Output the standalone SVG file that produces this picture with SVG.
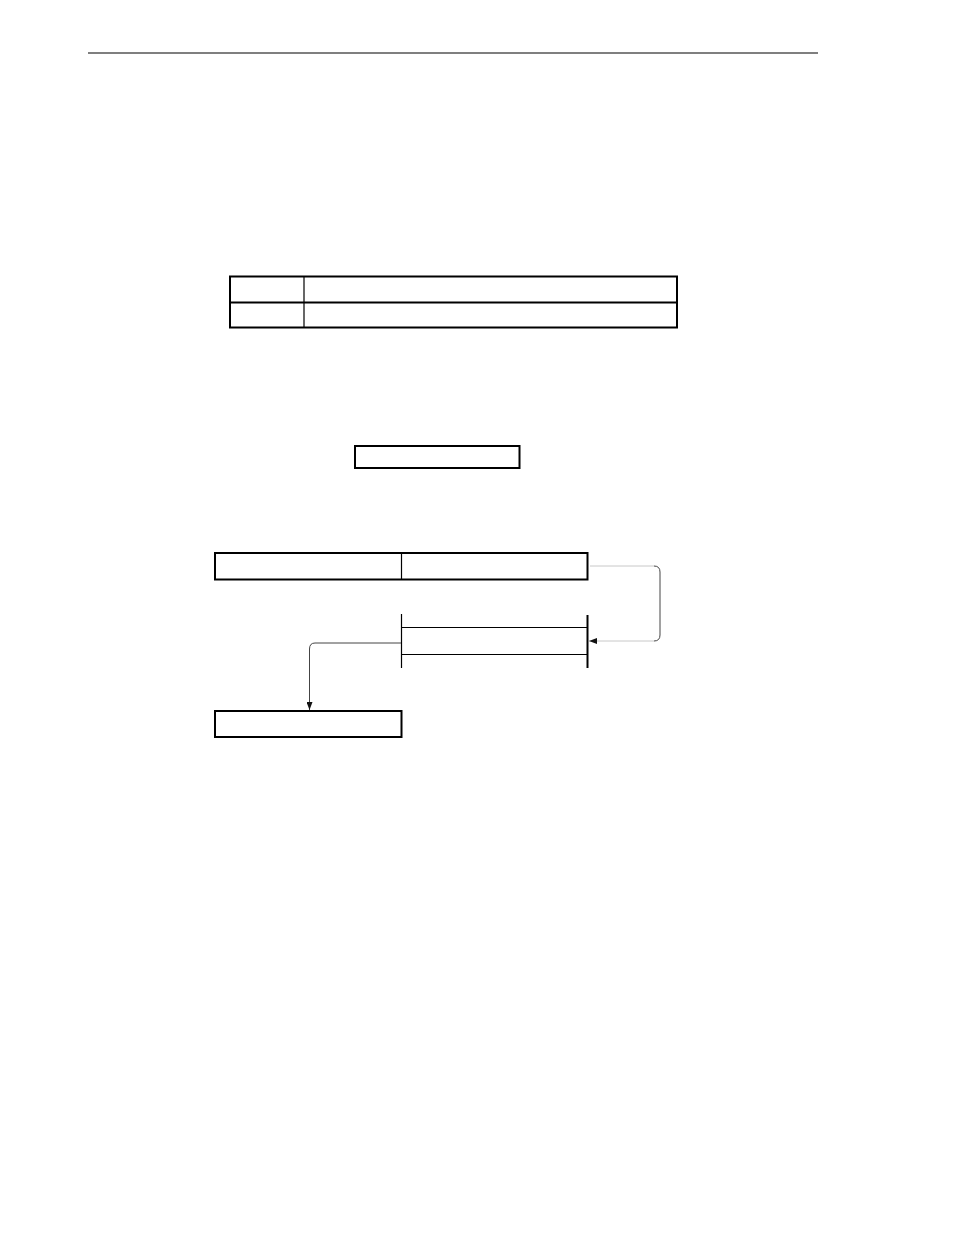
<svg xmlns="http://www.w3.org/2000/svg" width="954" height="1235" viewBox="0 0 954 1235">
<style>
.box{fill:#fff;stroke:#000;stroke-width:2}
.thin{stroke:#000;stroke-width:1.2;fill:none}
.conn{fill:none;stroke:#444;stroke-width:1}
</style>
<defs>
<marker id="ah" viewBox="0 0 8 6" refX="8" refY="3" markerWidth="8" markerHeight="6" markerUnits="userSpaceOnUse" orient="auto">
<path d="M0,0 L8,3 L0,6 z" fill="#111"/>
</marker>
</defs>
<rect width="954" height="1235" fill="#fff"/>
<line x1="88" y1="53" x2="818" y2="53" stroke="#000" stroke-width="1.2"/>
<g id="table">
<rect class="box" x="230" y="276.5" width="447" height="51"/>
<line class="thin" x1="304" y1="276.5" x2="304" y2="327.5"/>
<line x1="230" y1="302.5" x2="677" y2="302.5" stroke="#000" stroke-width="2"/>
</g>
<g id="box-center">
<rect class="box" x="355" y="446" width="164.5" height="22"/>
</g>
<g id="box-top">
<rect class="box" x="215" y="553" width="372.5" height="26.5"/>
<line class="thin" x1="401.5" y1="553" x2="401.5" y2="579.5"/>
</g>
<g id="stack">
<line class="thin" x1="401.5" y1="614" x2="401.5" y2="668"/>
<line x1="587.5" y1="615" x2="587.5" y2="668" stroke="#000" stroke-width="2"/>
<line class="thin" x1="401.5" y1="627.5" x2="587.5" y2="627.5"/>
<line class="thin" x1="401.5" y1="654.5" x2="587.5" y2="654.5"/>
</g>
<g id="box-bottom">
<rect class="box" x="215" y="711" width="186.5" height="26"/>
</g>
<g id="connectors">
<path d="M590,566 H654" fill="none" stroke="#c8c8c8" stroke-width="1"/>
<path d="M654,566 Q660,566 660,572 V635 Q660,641 654,641" class="conn"/>
<path d="M654,641 H589" fill="none" stroke="#c8c8c8" stroke-width="1" marker-end="url(#ah)"/>
<path d="M401,643 H315 Q309.5,643 309.5,649 V710" class="conn" marker-end="url(#ah)"/>
</g>
</svg>
